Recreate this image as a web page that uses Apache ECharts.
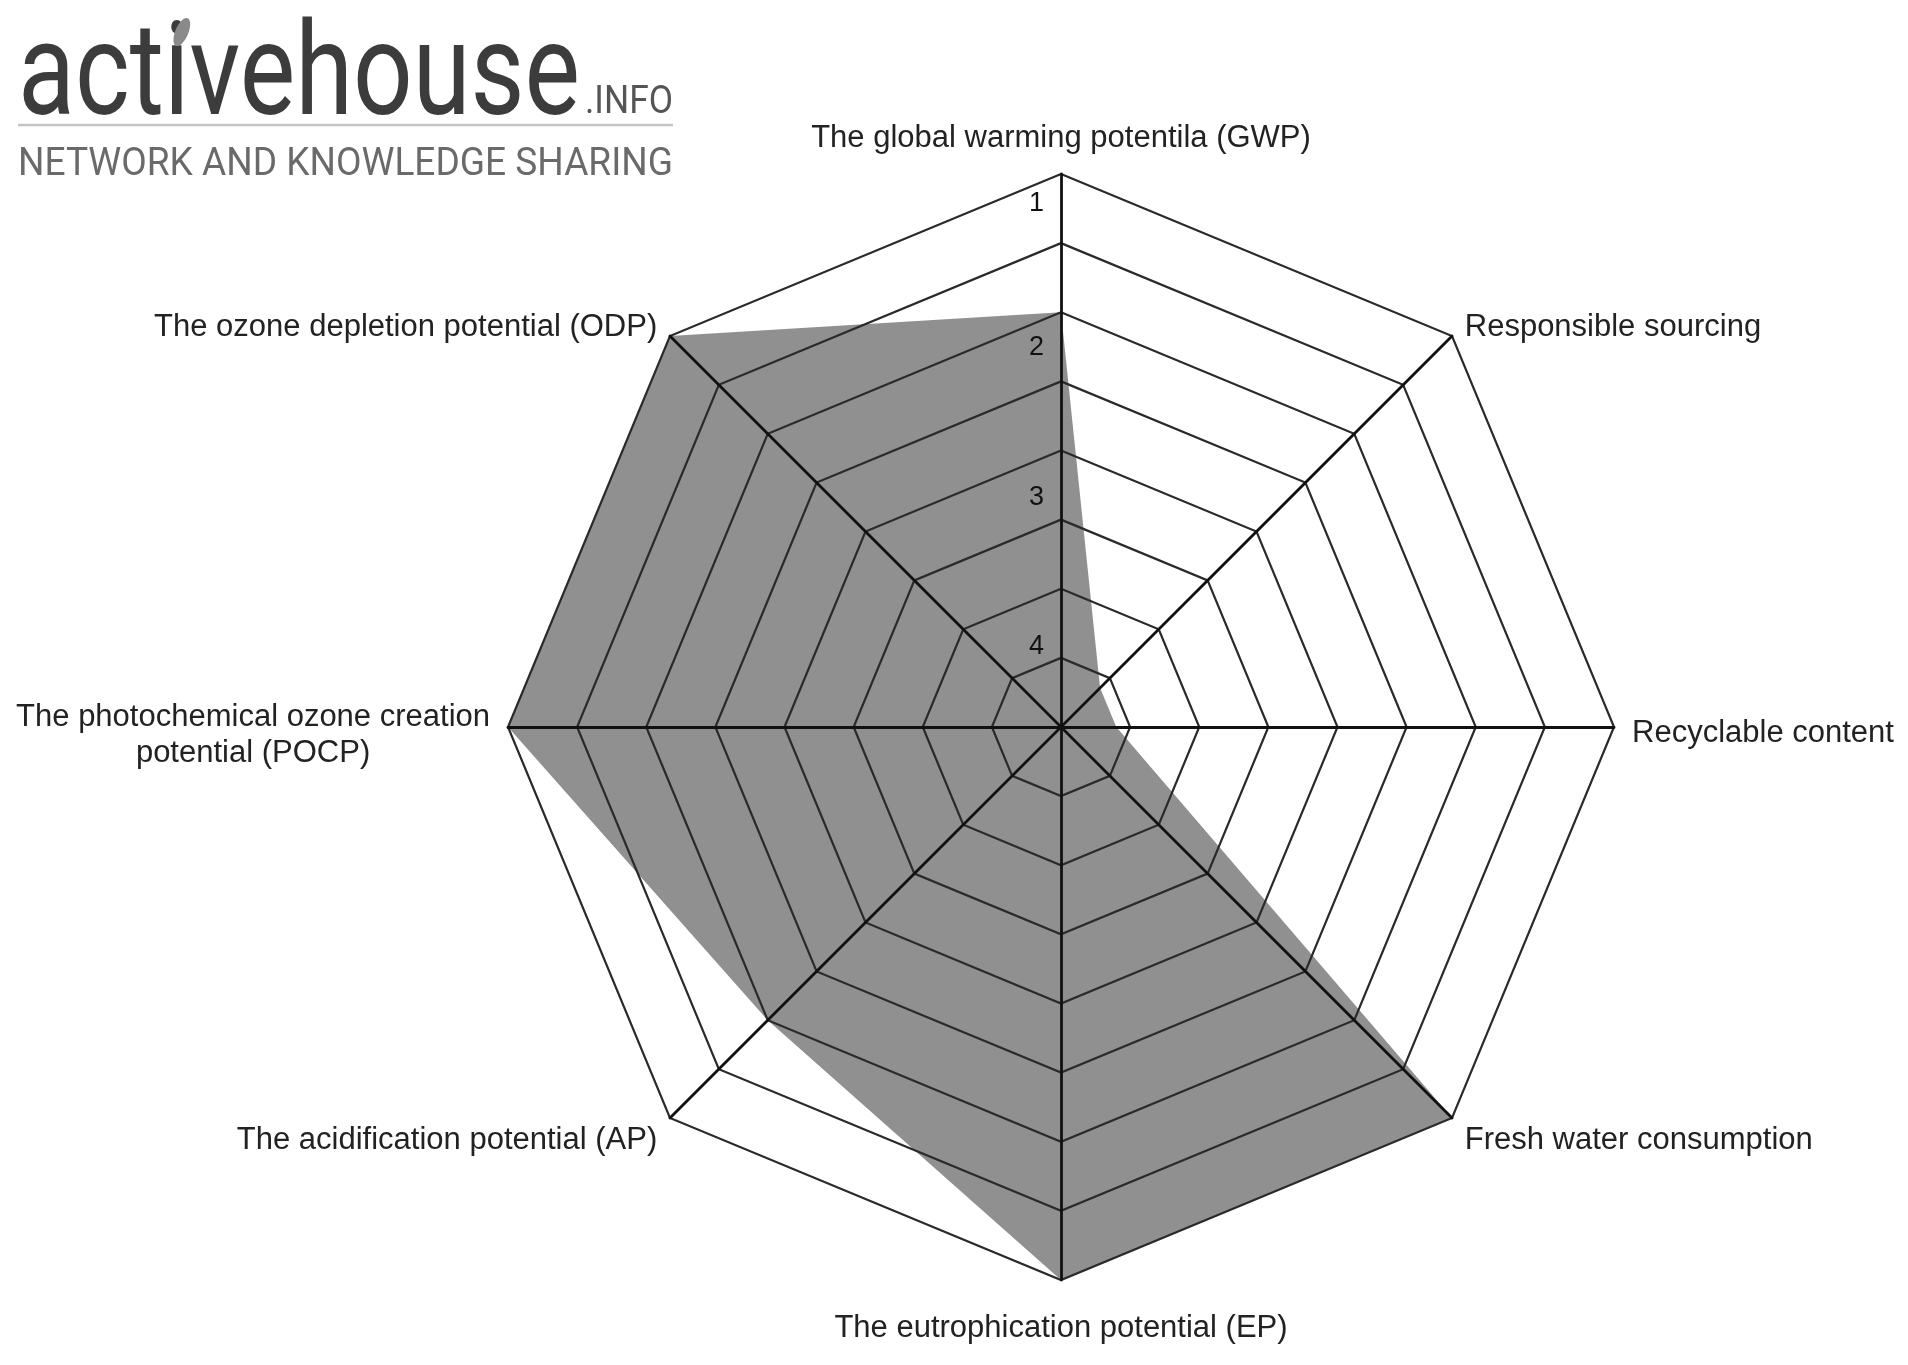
<!DOCTYPE html>
<html>
<head>
<meta charset="utf-8">
<title>Active House radar</title>
<script src="https://cdn.jsdelivr.net/npm/echarts@6/dist/echarts.min.js"></script>
<style>
html,body{margin:0;padding:0;background:#fff;}
#chart{width:1908px;height:1365px;}
</style>
</head>
<body>
<div id="chart"></div>
<script>
// ---- data (counter-clockwise from the top axis) ----
var indicatorNames = [
  'The global warming potentila (GWP)',
  'The ozone depletion potential (ODP)',
  'The photochemical ozone creation\npotential (POCP)',
  'The acidification potential (AP)',
  'The eutrophication potential (EP)',
  'Fresh water consumption',
  'Recyclable content',
  'Responsible sourcing'
];
// score on the 1 (outer ring) .. 5 (centre) scale
var scores = [2, 1, 1, 2, 1, 1, 4.6, 4.6];
var tickLabels = ['1', '2', '3', '4'];
var scaleBest = 1, scaleWorst = 5;

// ---- styles ----
var FONT = '"Liberation Sans", Arial, Helvetica, sans-serif';
var labelShift = {'1': 30, '2': 35, '3': 47, '4': 58};     // px below ring (label centre)
var namePadTop = [0, 8, 16, 20, 12, 20, 12, 8];            // per-axis name nudge

// radar axis runs from centre (worst) to outer ring (best): plotted = best+worst - score
var plotted = scores.map(function (s) { return scaleBest + scaleWorst - s; });

var labelRich = {};
tickLabels.forEach(function (t) {
  labelRich['t' + t] = {
    fontSize: 27, fontFamily: FONT, color: '#111',
    lineHeight: 27, padding: [labelShift[t] * 2, 0, 0, 0]
  };
});

function measure(text, font) {
  var c = document.createElement('canvas').getContext('2d');
  c.font = font;
  return c.measureText(text).width;
}
var LOGO_FONT = 'Roboto, "Open Sans", sans-serif';
var ACT_FONT = '130px ' + LOGO_FONT;
var sAct = 562 / measure('activehouse', ACT_FONT);
var sInfo = 88 / measure('.INFO', '38px ' + LOGO_FONT);
var sNet = 655 / measure('NETWORK AND KNOWLEDGE SHARING', '39px ' + LOGO_FONT);
var leafX = 18 + sAct * (measure('act', ACT_FONT) + measure('i', ACT_FONT) / 2) + 5;

var chart = echarts.init(document.getElementById('chart'));
chart.setOption({
  backgroundColor: '#ffffff',
  animation: false,
  graphic: [
    {type: 'text', x: 18, y: 81, scaleX: sAct,
      style: {text: 'activehouse', font: ACT_FONT, fill: '#3c3c3c', verticalAlign: 'middle', align: 'left'}},
    {type: 'ellipse', x: leafX, y: 32, rotation: -0.4,
      shape: {cx: 0, cy: 0, rx: 6.5, ry: 15}, style: {fill: '#8a8a8a'}},
    {type: 'text', x: 585, y: 103, scaleX: sInfo,
      style: {text: '.INFO', font: '38px ' + LOGO_FONT, fill: '#555', verticalAlign: 'middle', align: 'left'}},
    {type: 'line', shape: {x1: 18, y1: 125, x2: 673, y2: 125},
      style: {stroke: '#c4c4c4', lineWidth: 2.5}},
    {type: 'text', x: 18, y: 165, scaleX: sNet,
      style: {text: 'NETWORK AND KNOWLEDGE SHARING', font: '39px ' + LOGO_FONT, fill: '#6a6a6a', verticalAlign: 'middle', align: 'left'}}
  ],
  radar: {
    z: 3,
    center: [1061, 727],
    radius: 553,
    startAngle: 90,
    shape: 'polygon',
    splitNumber: 8,
    nameGap: 18,
    indicator: indicatorNames.map(function (n, i) {
      var ind = {name: n, min: scaleBest, max: scaleWorst, nameMoveOverlap: false,
        nameTextStyle: {padding: [namePadTop[i], 0, 0, 0]}};
      if (i === 0) {
        ind.axisLabel = {
          show: true,
          margin: 17,
          formatter: function (v) {
            var lab = String(scaleBest + scaleWorst - v);
            return tickLabels.indexOf(lab) >= 0 ? '{t' + lab + '|' + lab + '}' : '';
          },
          rich: labelRich
        };
      }
      return ind;
    }),
    axisName: {
      color: '#222',
      fontSize: 31,
      fontFamily: FONT,
      formatter: function (name) {
        return name.split('\n').map(function (l) { return '{c|' + l + '}'; }).join('\n');
      },
      rich: {c: {fontSize: 31, fontFamily: FONT, color: '#222', lineHeight: 36, align: 'center'}}
    },
    axisLine: {show: true, lineStyle: {color: '#111', width: 2.8}},
    axisTick: {show: false},
    axisLabel: {show: false},
    splitLine: {show: true, lineStyle: {color: '#2a2a2a', width: 2.2}},
    splitArea: {show: false}
  },
  series: [{
    type: 'radar',
    z: 1,
    symbol: 'none',
    lineStyle: {width: 0},
    areaStyle: {color: '#909090', opacity: 1},
    data: [{value: plotted, name: 'Score'}]
  }]
});
</script>
</body>
</html>
